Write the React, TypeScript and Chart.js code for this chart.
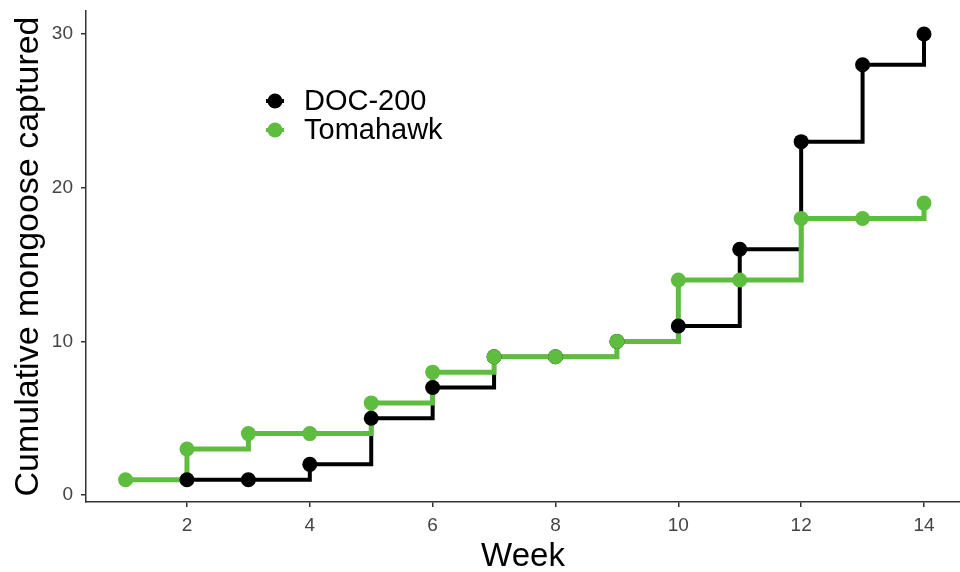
import React, { useEffect, useRef } from "react";
import { Chart, registerables } from "chart.js";

Chart.register(...registerables);

const weeks = [1, 2, 3, 4, 5, 6, 7, 8, 9, 10, 11, 12, 13, 14];
const doc200 = [null, 1, 1, 2, 5, 7, 9, 9, 10, 11, 16, 23, 28, 30];
const tomahawk = [1, 3, 4, 4, 6, 8, 9, 9, 10, 14, 14, 18, 18, 19];
const seriesNames = ["DOC-200", "Tomahawk"];
const xTicks = [2, 4, 6, 8, 10, 12, 14];
const yTicks = [0, 10, 20, 30];

const BLACK = "#000000";
const GREEN = "#5ebd3e";
const FONT = "'Liberation Sans', Arial, sans-serif";

function toXY(vals: (number | null)[]) {
  return weeks
    .map((w, i) => ({ x: w, y: vals[i] }))
    .filter((p) => p.y !== null) as { x: number; y: number }[];
}

const legendPlugin = {
  id: "insideLegend",
  afterDraw(chart: any) {
    const ctx = chart.ctx;
    const items = [
      { name: seriesNames[0], color: BLACK },
      { name: seriesNames[1], color: GREEN },
    ];
    ctx.save();
    ctx.font = `29px ${FONT}`;
    ctx.textBaseline = "middle";
    ctx.textAlign = "left";
    items.forEach((it, i) => {
      const cy = 101 + i * 29;
      const cx = 275;
      ctx.strokeStyle = it.color;
      ctx.lineWidth = 4;
      ctx.beginPath();
      ctx.moveTo(cx - 9, cy);
      ctx.lineTo(cx + 9, cy);
      ctx.stroke();
      ctx.fillStyle = it.color;
      ctx.beginPath();
      ctx.arc(cx, cy, 7.5, 0, Math.PI * 2);
      ctx.fill();
      ctx.fillStyle = "#000000";
      ctx.fillText(it.name, 304, cy + 1);
    });
    ctx.restore();
  },
};

export default function App() {
  const ref = useRef<HTMLCanvasElement>(null);
  useEffect(() => {
    if (!ref.current) return;
    const blackPts = toXY(doc200);
    const greenPts = toXY(tomahawk);
    const chart = new Chart(ref.current, {
      type: "line",
      data: {
        datasets: [
          {
            label: seriesNames[0] + " line",
            data: blackPts,
            borderColor: BLACK,
            borderWidth: 4,
            pointRadius: 0,
            stepped: true,
            fill: false,
            order: 3,
          },
          {
            label: seriesNames[1] + " line",
            data: greenPts,
            borderColor: GREEN,
            borderWidth: 5,
            pointRadius: 0,
            stepped: true,
            fill: false,
            order: 2,
          },
          {
            label: seriesNames[0],
            data: blackPts,
            showLine: false,
            pointRadius: 7.5,
            pointBackgroundColor: BLACK,
            pointBorderWidth: 0,
            borderColor: BLACK,
            order: 1,
          },
          {
            label: seriesNames[1],
            data: greenPts,
            showLine: false,
            pointRadius: 7.5,
            pointBackgroundColor: GREEN,
            pointBorderWidth: 0,
            borderColor: GREEN,
            order: 0,
          },
        ],
      },
      options: {
        animation: false,
        responsive: false,
        layout: { autoPadding: false, padding: { top: 11, right: 0, left: 0, bottom: 0 } },
        plugins: { legend: { display: false }, tooltip: { enabled: false } },
        scales: {
          x: {
            type: "linear",
            min: 0.356,
            max: 14.586,
            afterFit: (s: any) => {
              s.height = 70;
              s.paddingLeft = 0;
              s.paddingRight = 0;
            },
            afterBuildTicks: (s: any) => {
              s.ticks = xTicks.map((v) => ({ value: v }));
            },
            grid: {
              drawOnChartArea: false,
              drawTicks: true,
              tickLength: 5,
              color: "#333333",
              lineWidth: 1.5,
            },
            border: { display: true, color: "#333333", width: 1.5 },
            ticks: {
              color: "#444444",
              font: { family: FONT, size: 19 },
              padding: 7,
              maxRotation: 0,
            },
            title: {
              display: true,
              text: "Week",
              color: "#000000",
              font: { family: FONT, size: 33 },
              padding: { top: 0, bottom: -5 },
            },
          },
          y: {
            type: "linear",
            min: -0.45,
            max: 31.5,
            afterFit: (s: any) => {
              s.width = 86;
              s.paddingTop = 0;
              s.paddingBottom = 0;
            },
            afterBuildTicks: (s: any) => {
              s.ticks = yTicks.map((v) => ({ value: v }));
            },
            grid: {
              drawOnChartArea: false,
              drawTicks: true,
              tickLength: 5,
              color: "#333333",
              lineWidth: 1.5,
            },
            border: { display: true, color: "#333333", width: 1.5 },
            ticks: {
              color: "#444444",
              font: { family: FONT, size: 19 },
              padding: 8,
            },
            title: {
              display: true,
              text: "Cumulative mongoose captured",
              color: "#000000",
              font: { family: FONT, size: 34 },
              padding: { top: 8, bottom: 0 },
            },
          },
        },
      },
      plugins: [legendPlugin],
    } as any);
    return () => chart.destroy();
  }, []);
  return (
    <div style={{ position: "absolute", left: 0, top: 0, width: 960, height: 572, background: "#ffffff" }}>
      <canvas ref={ref} width={960} height={572} />
    </div>
  );
}
